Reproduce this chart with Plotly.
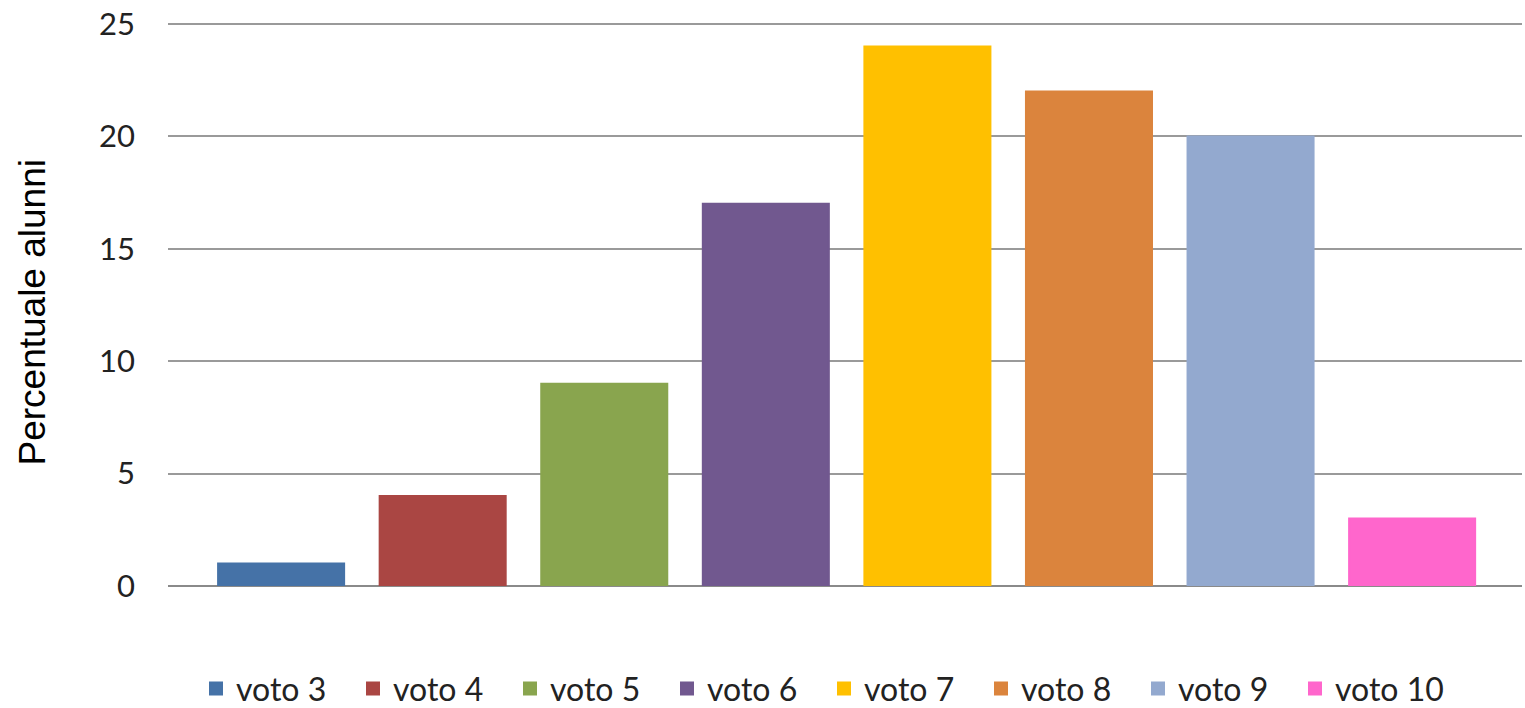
import plotly.graph_objects as go

categories = ["voto 3", "voto 4", "voto 5", "voto 6", "voto 7", "voto 8", "voto 9", "voto 10"]
values = [1, 4, 9, 17, 24, 22, 20, 3]
colors = ["#4572A7", "#AA4643", "#89A54E", "#71588F", "#FFC000", "#DB843D", "#93A9CF", "#FF66CC"]
y_ticks = [0, 5, 10, 15, 20, 25]
y_title = "Percentuale alunni"

fig = go.Figure()
for i, (name, v, c) in enumerate(zip(categories, values, colors)):
    fig.add_trace(go.Bar(
        x=[i], y=[v], name=name, width=0.78,
        marker=dict(color=c, line=dict(width=2, color=c)),
    ))

fig.update_layout(
    width=1525, height=708,
    barmode="overlay",
    plot_bgcolor="white", paper_bgcolor="white",
    margin=dict(l=168, r=3, t=22, b=122, autoexpand=False),
    font=dict(family="Lato", size=31, color="#222222"),
    legend=dict(
        orientation="h", x=0.4845, xanchor="center", y=-0.1823, yanchor="middle",
        font=dict(family="Lato", size=32, color="#222222"),
        entrywidth=112, entrywidthmode="pixels",
        traceorder="normal", bgcolor="rgba(0,0,0,0)",
    ),
    showlegend=True,
    annotations=[dict(
        text=y_title, textangle=-90, showarrow=False,
        xref="paper", yref="paper", x=-0.0997, y=0.4849,
        xanchor="center", yanchor="middle",
        font=dict(family="Liberation Sans", size=37, color="#000000"),
    )],
)
fig.update_xaxes(
    range=[-0.7, len(categories) - 1 + 0.68],
    showticklabels=False, showgrid=False, zeroline=False, ticks="",
)
fig.update_yaxes(
    range=[0, 25.09], tickvals=y_ticks, ticktext=[str(t) for t in y_ticks],
    showgrid=True, gridcolor="#9A9A9A", gridwidth=1.5,
    zeroline=True, zerolinecolor="#8A8A8A", zerolinewidth=2,
    ticks="", ticklabelstandoff=32, ticklabeloverflow="allow",
    tickfont=dict(family="Lato", size=31, color="#222222"),
)

# remove the default 8px page margin so the figure fills the window exactly
fig.write_html("out.html", config={"displayModeBar": False},
               post_script="document.body.style.margin='0';")
